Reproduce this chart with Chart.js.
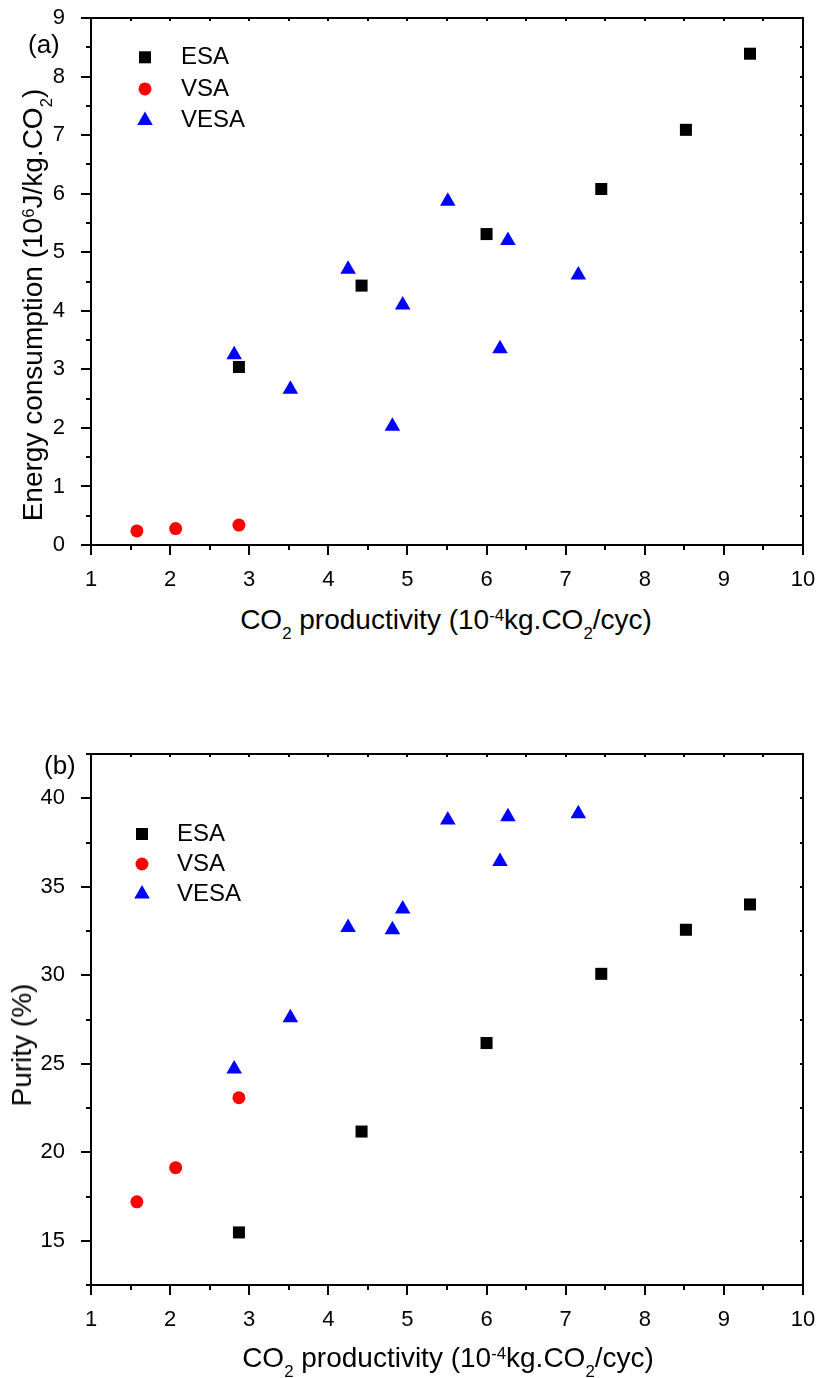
<!DOCTYPE html>
<html>
<head>
<meta charset="utf-8">
<script src="https://cdn.jsdelivr.net/npm/chart.js@4.4.1/dist/chart.umd.min.js"></script>
<style>
  body { margin: 0; background: #fff; width: 821px; height: 1378px; position: relative; overflow: hidden;
         font-family: "Liberation Sans", Arial, sans-serif; color: #000; }
  .box { position: absolute; left: 0; width: 821px; }
  .txt { position: absolute; white-space: nowrap; line-height: 1; font-size: 28px; transform: translate(-50%, -50%); }
  .rot { transform: translate(-50%, -50%) rotate(-90deg); }
  .sb { font-size: 0.6em; position: relative; top: 0.6em; }
  .sp { font-size: 0.6em; position: relative; top: -0.5em; }
  .panel { position: absolute; font-size: 26px; line-height: 1; }
</style>
</head>
<body>
<div class="box" style="top:0;height:600px"><canvas id="chartA"></canvas></div>
<div class="box" style="top:700px;height:660px"><canvas id="chartB"></canvas></div>

<div class="panel" style="left:28px;top:31px">(a)</div>
<div class="panel" style="left:44px;top:752px">(b)</div>

<div class="txt" style="left:446px;top:620px">CO<span class="sb">2</span> productivity (10<span class="sp">-4</span>kg.CO<span class="sb">2</span>/cyc)</div>
<div class="txt" style="left:448px;top:1358px">CO<span class="sb">2</span> productivity (10<span class="sp">-4</span>kg.CO<span class="sb">2</span>/cyc)</div>
<div class="txt rot" style="left:33px;top:305px">Energy consumption (10<span class="sp">6</span>J/kg.CO<span class="sb">2</span>)</div>
<div class="txt rot" style="left:22px;top:1045px">Purity (%)</div>

<script>
// x: CO2 productivity (10^-4 kg CO2 / cycle)
const esaX = [2.87, 4.42, 6.00, 7.45, 8.52, 9.33];
const vsaX = [1.58, 2.07, 2.87];
const vesaX = [2.81, 3.52, 4.25, 4.81, 4.94, 5.51, 6.17, 6.27, 7.16];

// (a) energy consumption (10^6 J/kg CO2)
const esaEnergy = [3.04, 4.43, 5.31, 6.08, 7.09, 8.39];
const vsaEnergy = [0.24, 0.28, 0.34];
const vesaEnergy = [3.25, 2.66, 4.71, 2.03, 4.10, 5.87, 3.35, 5.20, 4.61];

// (b) purity (%)
const esaPurity = [15.47, 21.17, 26.17, 30.08, 32.57, 34.00];
const vsaPurity = [17.20, 19.13, 23.08];
const vesaPurity = [24.70, 27.60, 32.70, 32.57, 33.75, 38.77, 36.43, 38.96, 39.13];

const xTicks = [1, 2, 3, 4, 5, 6, 7, 8, 9, 10];
const yTicksA = [0, 1, 2, 3, 4, 5, 6, 7, 8, 9];
const yTicksB = [15, 20, 25, 30, 35, 40];

const FONT = '"Liberation Sans", Arial, sans-serif';
Chart.defaults.font.family = FONT;
Chart.defaults.color = '#000';

const pts = (xs, ys) => xs.map((x, i) => ({ x: x, y: ys[i] }));

function makeSets(esaY, vsaY, vesaY) {
    return [
        { label: 'ESA', data: pts(esaX, esaY), pointStyle: 'rect', pointRadius: 8.5, backgroundColor: '#000000' },
        { label: 'VSA', data: pts(vsaX, vsaY), pointStyle: 'circle', pointRadius: 6.5, backgroundColor: '#ff0000' },
        { label: 'VESA', data: pts(vesaX, vesaY), pointStyle: 'triangle', pointRadius: 9, backgroundColor: '#0000ff' }
    ].map(d => Object.assign(d, { borderWidth: 0, pointBorderWidth: 0, pointHoverRadius: d.pointRadius }));
}

// box frame + origin-like ticks
const frame = {
    id: 'frame',
    afterDraw(chart, args, o) {
        const { ctx, chartArea: a } = chart;
        const sx = chart.scales.x, sy = chart.scales.y;
        const isMajor = (v, s) => Math.abs(v / s - Math.round(v / s)) < 1e-6;
        ctx.save();
        ctx.strokeStyle = '#000';
        ctx.lineWidth = 2;
        ctx.beginPath();
        for (let v = sx.min; v <= sx.max + 1e-9; v += o.xMinor) {
            const p = Math.round(sx.getPixelForValue(v));
            ctx.moveTo(p, a.bottom);
            ctx.lineTo(p, a.bottom + (isMajor(v, o.xMajor) ? 10 : 5));
            ctx.moveTo(p, a.top);
            ctx.lineTo(p, a.top + 3);
        }
        for (let v = sy.min; v <= sy.max + 1e-9; v += o.yMinor) {
            const p = Math.round(sy.getPixelForValue(v));
            ctx.moveTo(a.left, p);
            ctx.lineTo(a.left - (isMajor(v, o.yMajor) ? 10 : 5), p);
            ctx.moveTo(a.right, p);
            ctx.lineTo(a.right - 3, p);
        }
        ctx.stroke();
        ctx.strokeRect(a.left, a.top, a.right - a.left, a.bottom - a.top);
        ctx.restore();
    }
};

// legend drawn inside the plot area
const innerLegend = {
    id: 'innerLegend',
    afterDraw(chart, args, o) {
        const { ctx, chartArea: a } = chart;
        ctx.save();
        ctx.font = '24px ' + FONT;
        ctx.textBaseline = 'middle';
        chart.data.datasets.forEach((ds, i) => {
            const y = a.top + o.dy + i * o.gap;
            ctx.fillStyle = ds.backgroundColor;
            Chart.helpers.drawPoint(ctx, { pointStyle: ds.pointStyle, radius: ds.pointRadius, borderWidth: 0, rotation: 0 }, a.left + o.markX, y);
            ctx.fillStyle = '#000';
            ctx.fillText(ds.label, a.left + o.textX, y);
        });
        ctx.restore();
    }
};

// keep label overflow from pushing the plot area around
const noPad = s => { s.paddingTop = 0; s.paddingBottom = 0; s.paddingLeft = 0; s.paddingRight = 0; };

function makeChart(id, sets, yMin, yMax, yTicks, padTop, xHeight, frameOpts, legendOpts) {
    return new Chart(document.getElementById(id), {
        type: 'scatter',
        data: { datasets: sets },
        plugins: [frame, innerLegend],
        options: {
            responsive: true,
            maintainAspectRatio: false,
            animation: false,
            layout: { padding: { left: 0, right: 18, top: padTop, bottom: 0 } },
            plugins: {
                legend: { display: false },
                tooltip: { enabled: false },
                frame: frameOpts,
                innerLegend: legendOpts
            },
            scales: {
                x: {
                    type: 'linear', min: 1, max: 10,
                    grid: { display: false }, border: { display: false },
                    afterBuildTicks: s => { s.ticks = xTicks.map(v => ({ value: v })); },
                    afterFit: s => { s.height = xHeight; noPad(s); },
                    ticks: { font: { size: 22 }, color: '#000', padding: 14, maxRotation: 0 }
                },
                y: {
                    type: 'linear', min: yMin, max: yMax,
                    grid: { display: false }, border: { display: false },
                    afterBuildTicks: s => { s.ticks = yTicks.map(v => ({ value: v })); },
                    afterFit: s => { s.width = 91; noPad(s); },
                    ticks: { font: { size: 22 }, color: '#000', padding: 18 }
                }
            }
        }
    });
}

makeChart('chartA', makeSets(esaEnergy, vsaEnergy, vesaEnergy), 0, 9, yTicksA, 18, 55,
    { xMinor: 0.5, xMajor: 1, yMinor: 0.5, yMajor: 1 },
    { markX: 54, textX: 90, dy: 39.3, gap: 31.6 });

makeChart('chartB', makeSets(esaPurity, vsaPurity, vesaPurity), 12.5, 42.5, yTicksB, 54, 75,
    { xMinor: 0.5, xMajor: 1, yMinor: 2.5, yMajor: 5 },
    { markX: 51, textX: 86, dy: 80, gap: 30 });
</script>
</body>
</html>
